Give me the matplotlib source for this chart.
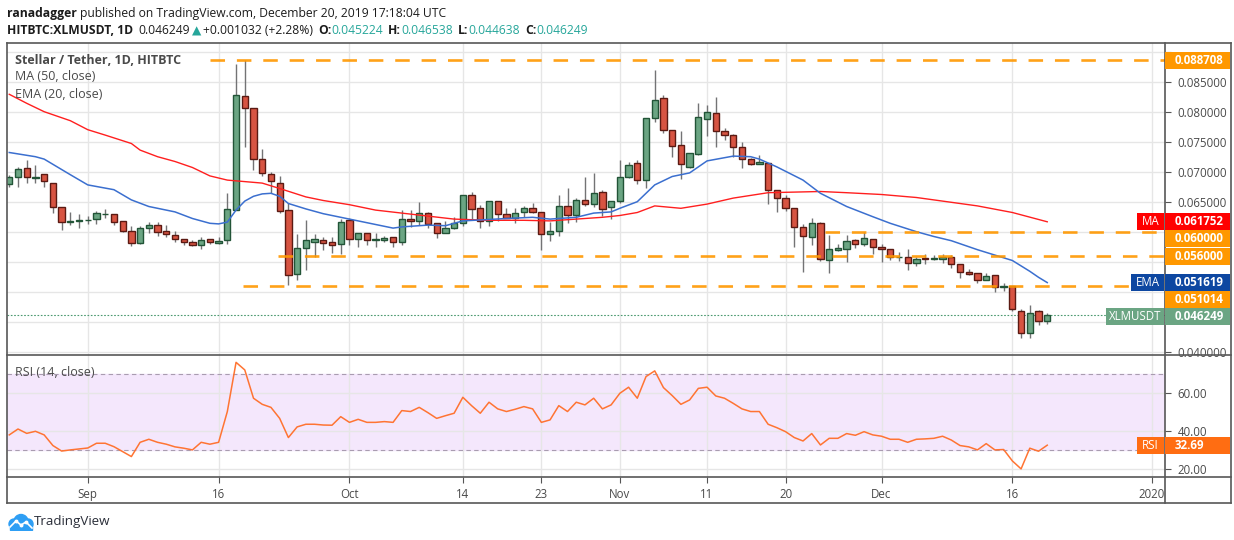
import numpy as np
import pandas as pd
import matplotlib
matplotlib.use("Agg")
import matplotlib.pyplot as plt
import matplotlib.dates as mdates
from matplotlib.patches import Rectangle, Circle
from matplotlib.lines import Line2D
from matplotlib.ticker import FuncFormatter

W, H = 1234, 540
FONT = ["Open Sans", "DejaVu Sans"]

# daily candles HITBTC:XLMUSDT, first candle 2019-08-23
start = "2019-08-23"
opens = [0.06800, 0.06917, 0.07067, 0.06912, 0.06967, 0.06828, 0.06417, 0.06172, 0.06189, 0.06211,
         0.06228, 0.06300, 0.06300, 0.06194, 0.06028, 0.05817, 0.06067, 0.06117, 0.06017, 0.05950,
         0.05883, 0.05833, 0.05783, 0.05883, 0.05820, 0.05867, 0.06367, 0.08267, 0.08078, 0.07217,
         0.06967, 0.06828, 0.06367, 0.05300, 0.05733, 0.05844, 0.05867, 0.05839, 0.05800, 0.06200,
         0.05883, 0.05983, 0.05867, 0.05867, 0.05917, 0.05844, 0.06222, 0.06183, 0.06317, 0.06150,
         0.05983, 0.06078, 0.06150, 0.06617, 0.06400, 0.06183, 0.06517, 0.06306, 0.06244, 0.06333,
         0.06400, 0.06333, 0.05978, 0.06017, 0.06433, 0.06283, 0.06533, 0.06467, 0.06667, 0.06417,
         0.06517, 0.06917, 0.07150, 0.06867, 0.07900, 0.08233, 0.07700, 0.07450, 0.07094, 0.07311,
         0.07883, 0.07983, 0.07683, 0.07617, 0.07417, 0.07217, 0.07133, 0.07150, 0.06700, 0.06567,
         0.06400, 0.06083, 0.05928, 0.06150, 0.05544, 0.05711, 0.05728, 0.05867, 0.05806, 0.05894,
         0.05750, 0.05717, 0.05590, 0.05590, 0.05490, 0.05567, 0.05556, 0.05556, 0.05590, 0.05467,
         0.05333, 0.05317, 0.05211, 0.05283, 0.05089, 0.05111, 0.04694, 0.04328, 0.04694, 0.045224]
highs = [0.06956, 0.07083, 0.07206, 0.07117, 0.06967, 0.06828, 0.06417, 0.06333, 0.06306, 0.06272,
         0.06356, 0.06389, 0.06300, 0.06194, 0.06111, 0.06111, 0.06167, 0.06167, 0.06122, 0.06022,
         0.05883, 0.05872, 0.05917, 0.05883, 0.05922, 0.06661, 0.08806, 0.08871, 0.08078, 0.07389,
         0.07006, 0.06933, 0.06494, 0.05972, 0.06206, 0.05972, 0.05922, 0.05922, 0.06222, 0.06239,
         0.05983, 0.05983, 0.05989, 0.05940, 0.05917, 0.06372, 0.06372, 0.06506, 0.06333, 0.06150,
         0.06183, 0.06250, 0.06617, 0.06672, 0.06450, 0.06517, 0.06517, 0.06400, 0.06400, 0.06439,
         0.06483, 0.06333, 0.06167, 0.06622, 0.06739, 0.06578, 0.06922, 0.06989, 0.06706, 0.06517,
         0.07206, 0.07167, 0.07206, 0.07900, 0.08706, 0.08289, 0.07700, 0.07689, 0.07328, 0.08161,
         0.08122, 0.08261, 0.07744, 0.07639, 0.07500, 0.07239, 0.07289, 0.07150, 0.06700, 0.06622,
         0.06400, 0.06139, 0.06239, 0.06178, 0.05956, 0.05806, 0.05956, 0.05894, 0.06011, 0.05894,
         0.05806, 0.05717, 0.05667, 0.05728, 0.05590, 0.05633, 0.05617, 0.05633, 0.05617, 0.05467,
         0.05383, 0.05317, 0.05317, 0.05283, 0.05150, 0.05111, 0.04717, 0.04789, 0.04706, 0.046538]
lows = [0.06761, 0.06761, 0.06828, 0.06828, 0.06761, 0.06328, 0.06039, 0.06117, 0.06067, 0.06133,
        0.06133, 0.06244, 0.06122, 0.06000, 0.05778, 0.05800, 0.05994, 0.05944, 0.05917, 0.05833,
        0.05783, 0.05772, 0.05717, 0.05811, 0.05811, 0.05811, 0.06367, 0.07428, 0.07044, 0.06944,
        0.06661, 0.06328, 0.05117, 0.05200, 0.05372, 0.05594, 0.05706, 0.05650, 0.05633, 0.05783,
        0.05750, 0.05783, 0.05750, 0.05833, 0.05750, 0.05789, 0.06094, 0.06122, 0.06078, 0.05911,
        0.05983, 0.06056, 0.06111, 0.06228, 0.06067, 0.06111, 0.06183, 0.06244, 0.06161, 0.06261,
        0.06317, 0.05706, 0.05861, 0.05944, 0.06161, 0.06178, 0.06444, 0.06428, 0.06278, 0.06217,
        0.06483, 0.06900, 0.06800, 0.06744, 0.07844, 0.07661, 0.07261, 0.06883, 0.07078, 0.07289,
        0.07611, 0.07428, 0.07544, 0.07250, 0.07067, 0.07117, 0.07133, 0.06467, 0.06333, 0.06361,
        0.05761, 0.05333, 0.05783, 0.05528, 0.05317, 0.05683, 0.05511, 0.05744, 0.05772, 0.05639,
        0.05511, 0.05544, 0.05517, 0.05378, 0.05439, 0.05467, 0.05533, 0.05494, 0.05411, 0.05233,
        0.05289, 0.05150, 0.05200, 0.05010, 0.05028, 0.04694, 0.04233, 0.04233, 0.04456, 0.044638]
closes = [0.06917, 0.07050, 0.06917, 0.06922, 0.06850, 0.06417, 0.06167, 0.06189, 0.06206, 0.06211,
          0.06317, 0.06311, 0.06178, 0.06028, 0.05817, 0.06067, 0.06117, 0.06011, 0.05967, 0.05883,
          0.05833, 0.05783, 0.05872, 0.05833, 0.05850, 0.06383, 0.08283, 0.08067, 0.07217, 0.06983,
          0.06850, 0.06350, 0.05283, 0.05733, 0.05867, 0.05889, 0.05828, 0.05794, 0.06167, 0.05883,
          0.05983, 0.05867, 0.05889, 0.05906, 0.05844, 0.06217, 0.06194, 0.06317, 0.06144, 0.05983,
          0.06078, 0.06150, 0.06617, 0.06383, 0.06183, 0.06517, 0.06311, 0.06244, 0.06317, 0.06400,
          0.06333, 0.05967, 0.06017, 0.06433, 0.06283, 0.06533, 0.06467, 0.06650, 0.06383, 0.06517,
          0.06917, 0.07117, 0.06867, 0.07900, 0.08200, 0.07700, 0.07444, 0.07133, 0.07317, 0.07917,
          0.08000, 0.07683, 0.07617, 0.07417, 0.07217, 0.07139, 0.07167, 0.06700, 0.06567, 0.06400,
          0.06083, 0.05933, 0.06150, 0.05561, 0.05728, 0.05744, 0.05856, 0.05806, 0.05911, 0.05750,
          0.05717, 0.05590, 0.05590, 0.05490, 0.05561, 0.05556, 0.05567, 0.05590, 0.05467, 0.05333,
          0.05300, 0.05206, 0.05280, 0.05094, 0.05111, 0.04717, 0.04328, 0.04660, 0.04522, 0.046249]

ma_dates = ["2019-08-23", "2019-08-25", "2019-08-27", "2019-08-30", "2019-09-01", "2019-09-03",
            "2019-09-06", "2019-09-07", "2019-09-09", "2019-09-11", "2019-09-13", "2019-09-15",
            "2019-09-17", "2019-09-21", "2019-09-23", "2019-09-26", "2019-09-28", "2019-10-01",
            "2019-10-04", "2019-10-07", "2019-10-10", "2019-10-13", "2019-10-17", "2019-10-21",
            "2019-10-24", "2019-10-27", "2019-10-30", "2019-11-01", "2019-11-03", "2019-11-05",
            "2019-11-08", "2019-11-11", "2019-11-14", "2019-11-18", "2019-11-24", "2019-11-27",
            "2019-12-01", "2019-12-05", "2019-12-09", "2019-12-12", "2019-12-16", "2019-12-20"]
ma_values = [0.0830, 0.0815, 0.0801, 0.0786, 0.0771, 0.0762,
             0.0748, 0.0737, 0.0726, 0.0718, 0.0708, 0.0694,
             0.0687, 0.0682, 0.0673, 0.0659, 0.0653, 0.0646,
             0.0637, 0.0632, 0.0627, 0.0622, 0.0620, 0.0620,
             0.0619, 0.0622, 0.0625, 0.0628, 0.0633, 0.0644,
             0.0640, 0.0647, 0.0657, 0.0666, 0.0668, 0.0666,
             0.0663, 0.0658, 0.0650, 0.0644, 0.0633, 0.061752]

ema_dates = ["2019-08-23", "2019-08-26", "2019-08-27", "2019-08-30", "2019-09-01", "2019-09-04",
             "2019-09-06", "2019-09-08", "2019-09-11", "2019-09-13", "2019-09-15", "2019-09-16",
             "2019-09-17", "2019-09-18", "2019-09-19", "2019-09-20", "2019-09-21", "2019-09-22",
             "2019-09-23", "2019-09-24", "2019-09-26", "2019-09-28", "2019-10-01", "2019-10-03",
             "2019-10-06", "2019-10-07", "2019-10-10", "2019-10-12", "2019-10-14", "2019-10-19",
             "2019-10-22", "2019-10-24", "2019-10-27", "2019-10-29", "2019-10-31", "2019-11-01",
             "2019-11-03", "2019-11-05", "2019-11-07", "2019-11-09", "2019-11-11", "2019-11-14",
             "2019-11-16", "2019-11-17", "2019-11-19", "2019-11-22", "2019-11-24", "2019-11-27",
             "2019-11-30", "2019-12-02", "2019-12-05", "2019-12-07", "2019-12-09", "2019-12-12",
             "2019-12-14", "2019-12-16", "2019-12-17", "2019-12-18", "2019-12-19", "2019-12-20"]
ema_values = [0.0733, 0.0726, 0.0722, 0.0696, 0.0679, 0.0671,
              0.0654, 0.0643, 0.0634, 0.0623, 0.0615, 0.0614,
              0.0617, 0.0637, 0.0652, 0.0660, 0.0664, 0.0665,
              0.0660, 0.0648, 0.0639, 0.0631, 0.0622, 0.0616,
              0.0607, 0.0609, 0.0612, 0.0611, 0.0619, 0.0623,
              0.0625, 0.0622, 0.0625, 0.0632, 0.0634, 0.0640,
              0.0651, 0.0679, 0.0693, 0.0699, 0.0719, 0.0727,
              0.0726, 0.0722, 0.0709, 0.0687, 0.0665, 0.0643,
              0.0626, 0.0615, 0.0601, 0.0593, 0.0586, 0.0571,
              0.0562, 0.0553, 0.0544, 0.0535, 0.0525, 0.051619]

rsi_values = [38.1, 41.2, 38.9, 40.0, 38.1, 32.5, 29.6, 30.2, 30.7, 31.2,
              33.7, 33.7, 31.9, 29.3, 26.7, 34.2, 35.8, 34.2, 33.2, 31.8,
              31.1, 30.2, 34.2, 33.2, 34.2, 50.4, 76.3, 72.3, 57.4, 54.2,
              52.6, 46.8, 36.7, 42.3, 43.7, 43.7, 43.3, 43.2, 47.7, 44.7,
              46.3, 44.7, 44.7, 45.1, 44.7, 50.9, 50.4, 52.6, 49.8, 46.8,
              48.2, 49.5, 57.9, 53.5, 49.5, 55.3, 51.8, 50.4, 51.6, 53.0,
              51.8, 44.7, 46.0, 53.5, 50.4, 55.3, 53.9, 57.4, 51.8, 53.9,
              60.0, 63.2, 57.4, 68.8, 71.8, 63.0, 58.8, 54.2, 56.5, 62.6,
              63.2, 58.6, 57.4, 54.7, 51.8, 50.4, 50.4, 43.7, 41.9, 39.8,
              36.7, 34.9, 38.8, 32.8, 36.3, 36.3, 38.8, 37.9, 39.8, 38.1,
              37.4, 35.8, 35.8, 34.2, 35.8, 36.0, 36.3, 37.4, 35.4, 32.5,
              31.8, 30.2, 33.5, 30.2, 30.4, 24.4, 20.2, 31.1, 29.5, 32.69]

levels = [0.088708, 0.060000, 0.056000, 0.051014]
level_starts = ["2019-09-15 00:00", "2019-11-24 12:00", "2019-09-22 20:00", "2019-09-18 20:00"]

tick_dates = ["2019-09-01", "2019-09-16", "2019-10-01", "2019-10-14", "2019-10-23", "2019-11-01",
              "2019-11-11", "2019-11-20", "2019-12-01", "2019-12-16", "2020-01-01"]
tick_labels = ["Sep", "16", "Oct", "14", "23", "Nov", "11", "20", "Dec", "16", "2020"]

# ---------------------------------------------------------------------------
o = np.array(opens)
hi = np.array(highs)
lo = np.array(lows)
c = np.array(closes)
dates = pd.date_range(start, periods=len(c), freq="D")
xs = mdates.date2num(dates)

fig = plt.figure(figsize=(W / 100, H / 100), dpi=100)
fig.patch.set_facecolor("white")

L, R, TOP, SEP, BOT, FRAME_B, FRAME_R = 7, 1165, 43, 355, 476.5, 503, 1231
ax = fig.add_axes([L / W, 1 - SEP / H, (R - L) / W, (SEP - TOP) / H])
ax2 = fig.add_axes([L / W, 1 - BOT / H, (R - L) / W, (BOT - SEP) / H], sharex=ax)

xmin, xmax = xs[0] - 0.26, xs[0] + 132.5
ax.set_xlim(xmin, xmax)
ax.set_ylim(0.03955, 0.09155)
ax2.set_ylim(16.2, 80.16)

grid_c = "#e6e6e6"
tx = mdates.date2num(pd.to_datetime(tick_dates))
for a in (ax, ax2):
    for s in a.spines.values():
        s.set_visible(False)
    a.set_xticks(tx)
    a.grid(True, color=grid_c, lw=1.0)
    a.set_axisbelow(True)
    a.yaxis.tick_right()
    a.tick_params(axis="y", length=4, width=0.8, color="#555555", pad=5,
                  labelsize=8.3, labelcolor="#4a4a4a")

ax.tick_params(axis="x", length=0, labelbottom=False)
ax2.set_xticklabels(tick_labels)
ax2.tick_params(axis="x", length=4, width=0.8, color="#555555", pad=4,
                labelsize=8.3, labelcolor="#4a4a4a")

ax.set_yticks(np.arange(0.040, 0.0901, 0.005))
ax.yaxis.set_major_formatter(FuncFormatter(lambda v, p: f"{v:.6f}"))
ax2.set_yticks([20, 40, 60])
ax2.yaxis.set_major_formatter(FuncFormatter(lambda v, p: f"{v:.2f}"))
for t in ax.get_yticklabels() + ax2.get_yticklabels() + ax2.get_xticklabels():
    t.set_family(FONT)

# candles
up = c >= o
body_lo = np.minimum(o, c)
body_h = np.maximum(np.abs(c - o), 0.00002)
ax.vlines(xs, lo, hi, color="#737375", lw=1.0, zorder=2)
ax.bar(xs[up], body_h[up], bottom=body_lo[up], width=0.72, color="#6ba583",
       edgecolor="#225437", linewidth=1.0, zorder=3)
ax.bar(xs[~up], body_h[~up], bottom=body_lo[~up], width=0.72, color="#d75442",
       edgecolor="#5b1a13", linewidth=1.0, zorder=3)

ax.plot(mdates.date2num(pd.to_datetime(ma_dates)), ma_values, color="#ff1f1f", lw=1.0, zorder=4)
ax.plot(mdates.date2num(pd.to_datetime(ema_dates)), ema_values, color="#3b6fcf", lw=1.1, zorder=4)

# horizontal levels
for lv, st in zip(levels, level_starts):
    x0 = mdates.date2num(pd.Timestamp(st))
    ax.plot([x0, xmax], [lv, lv], color="#ff9800", lw=1.9, dashes=(5.5, 4.5),
            alpha=0.9, zorder=5, solid_capstyle="butt", dash_capstyle="butt")

ax.axhline(c[-1], color="#4a9a70", lw=0.8, ls=(0, (1.5, 1.5)), zorder=1)

# rsi
ax2.axhspan(30, 70, color="#f4e7fc", zorder=0)
for lvl in (30, 70):
    ax2.axhline(lvl, color="#a99cb0", lw=0.8, ls=(0, (4, 3)), zorder=1)
ax2.plot(xs, rsi_values, color="#ff7433", lw=1.1, zorder=3)


# frame lines
def fline(x0, y0, x1, y1, color="#585858", lw=1.2):
    fig.add_artist(Line2D([x0 / W, x1 / W], [1 - y0 / H, 1 - y1 / H], color=color,
                          lw=lw, transform=fig.transFigure, zorder=4))


fline(L, TOP, FRAME_R, TOP)
fline(L, FRAME_B, FRAME_R, FRAME_B)
fline(L, TOP, L, FRAME_B)
fline(FRAME_R, TOP, FRAME_R, FRAME_B)
fline(R, TOP, R, FRAME_B)
fline(L, SEP, FRAME_R, SEP)
fline(L, BOT, FRAME_R, BOT)

# axis label boxes
fig.canvas.draw()
BOX_H = 17


def box(y_disp, text, color, x0=R, x1=FRAME_R - 1, bold=True):
    fig.add_artist(Rectangle((x0 / W, (y_disp - BOX_H / 2) / H), (x1 - x0) / W, BOX_H / H,
                             transform=fig.transFigure, facecolor=color, edgecolor="none",
                             zorder=6))
    if x0 == R:
        fig.text((R + 10) / W, y_disp / H, text, color="white", fontsize=8.3,
                 fontweight="bold" if bold else "normal", va="center", ha="left",
                 family=FONT, zorder=7)
    else:
        fig.text((x0 + x1) / 2 / W, y_disp / H, text, color="white", fontsize=8.3,
                 va="center", ha="center", family=FONT, zorder=7)


def hide_covered(a, box_ys, limit=12):
    for tick, v in zip(a.yaxis.get_major_ticks(), a.get_yticks()):
        ty = a.transData.transform((xs[0], v))[1]
        if any(abs(ty - by) < limit for by in box_ys):
            tick.label2.set_visible(False)


price_boxes = [(levels[0], "#ff9800", None),
               (0.061752, "#ff0000", ("MA", 1137)),
               (levels[1], "#ff9800", None),
               (levels[2], "#ff9800", None),
               (0.051619, "#0d47a1", ("EMA", 1131)),
               (levels[3], "#ff9800", None),
               (c[-1], "#6ba583", ("XLMUSDT", 1106))]
price_boxes.sort(key=lambda b: -b[0])
prev = None
placed = []
for val, col, side in price_boxes:
    yd = ax.transData.transform((xs[0], val))[1]
    if prev is not None and prev - yd < BOX_H:
        yd = prev - BOX_H
    prev = yd
    placed.append(yd)
    box(yd, f"{val:.6f}", col)
    if side:
        box(yd, side[0], col, x0=side[1], x1=R - 1)
hide_covered(ax, placed)

yd = ax2.transData.transform((xs[0], rsi_values[-1]))[1]
box(yd, f"{rsi_values[-1]:.2f}", "#ff6d12")
box(yd, "RSI", "#ff6d12", x0=1137, x1=R - 1)
hide_covered(ax2, [yd])

# legends
fig.text(15 / W, 1 - 60 / H, "Stellar / Tether, 1D, HITBTC", fontsize=9.0, fontweight="bold",
         color="#4a4a4a", va="center", family=FONT)
fig.text(15 / W, 1 - 77 / H, "MA (50, close)", fontsize=9.0, color="#4a4a4a", va="center",
         family=FONT)
fig.text(15 / W, 1 - 94 / H, "EMA (20, close)", fontsize=9.0, color="#4a4a4a", va="center",
         family=FONT)
fig.text(15 / W, 1 - 372 / H, "RSI (14, close)", fontsize=9.0, color="#4a4a4a", va="center",
         family=FONT)

# header
renderer = fig.canvas.get_renderer()


def runs(x, y, parts, size=8.7):
    for s, color, weight, gap in parts:
        t = fig.text(x / W, 1 - y / H, s, color=color, fontweight=weight, fontsize=size,
                     va="center", ha="left", family=FONT)
        x += t.get_window_extent(renderer=renderer).width + gap


dark = "#1c1c1c"
teal = "#26a69a"
runs(7, 13, [("ranadagger", dark, "bold", 3.5),
             ("published on TradingView.com, December 20, 2019 17:18:04 UTC", dark, "normal", 0)])
runs(7, 31, [("HITBTC:XLMUSDT, 1D", dark, "bold", 5),
             ("0.046249", dark, "normal", 2),
             ("▲", teal, "normal", 2),
             ("+0.001032 (+2.28%)", dark, "normal", 5),
             ("O:", dark, "bold", 0), ("0.045224", teal, "normal", 5),
             ("H:", dark, "bold", 0), ("0.046538", teal, "normal", 5),
             ("L:", dark, "bold", 0), ("0.044638", teal, "normal", 5),
             ("C:", dark, "bold", 0), ("0.046249", teal, "normal", 0)])

# TradingView logo
lax = fig.add_axes([7 / W, 1 - 531 / H, 27 / W, 18 / H])
lax.set_xlim(0, 27)
lax.set_ylim(0, 18)
lax.axis("off")
blue = "#2e9ef4"
for cx, cy, r in [(7, 7, 5), (14, 9.5, 7), (21, 7, 5)]:
    lax.add_patch(Circle((cx, cy), r, color=blue))
lax.add_patch(Rectangle((3, 1), 22, 6, color=blue))
lax.plot([3, 9, 14, 19, 25], [4, 10, 6, 9, 3], color="white", lw=1.2)
lax.plot([9, 14, 19], [10, 6, 9], "o", color="white", ms=1.8)
fig.text(34 / W, 1 - 522 / H, "TradingView", fontsize=9.6, color="#2a2e39", va="center",
         family=FONT)

fig.savefig("out.png", dpi=100, facecolor="white")
